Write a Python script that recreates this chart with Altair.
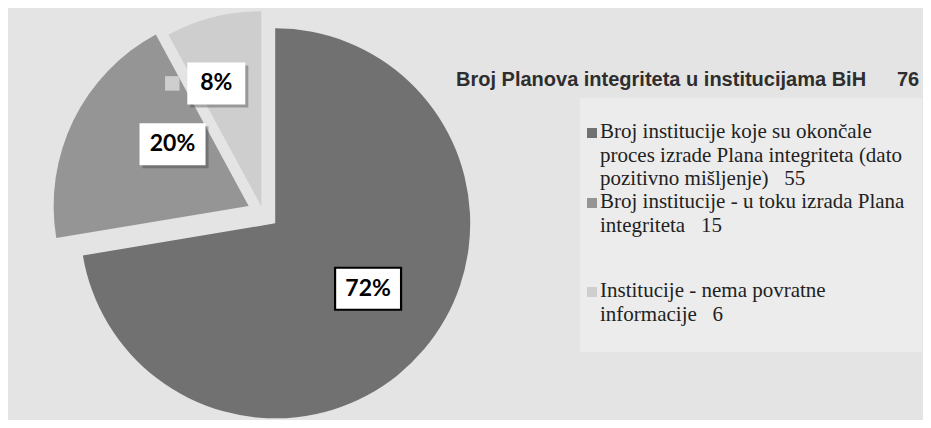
import altair as alt
import pandas as pd

# ---- data ----
categories = [
    "Broj institucije koje su okončale proces izrade Plana integriteta (dato pozitivno mišljenje)",
    "Broj institucije - u toku izrada Plana integriteta",
    "Institucije - nema povratne informacije",
]
counts = [55, 15, 6]
legend_lines = [
    ["Broj institucije koje su okončale", "proces izrade Plana integriteta (dato", "pozitivno mišljenje)"],
    ["Broj institucije  - u toku izrada Plana", "integriteta"],
    ["Institucije  - nema povratne", "informacije"],
]
title_text = "Broj Planova integriteta u institucijama BiH"

# ---- styles / layout ----
colors = ["#717171", "#959595", "#cecece"]
BG = "#e4e4e4"
CX, CY, R = 255, 205, 195
EXPLODE = [16, 16, 7]
LABEL_DIST = [113.6, 98, 130.8]
LABEL_SHIFT = [-5.1, 13, -5.9]
LEG_Y = [130, 200, 289]

legend_text = []
for lines, c in zip(legend_lines, counts):
    ls = list(lines)
    ls[-1] = ls[-1] + "\u00a0\u00a0 " + str(c)
    legend_text.append(ls)

df = pd.DataFrame({
    "i": list(range(len(categories))),
    "category": categories,
    "count": counts,
    "legend": legend_text,
})

color = alt.Color("category:N", scale=alt.Scale(domain=categories, range=colors), legend=None)

base = alt.Chart(df).transform_window(
    cum="sum(count)", sort=[alt.SortField("i")], frame=[None, 0]
).transform_joinaggregate(
    total="sum(count)"
).transform_calculate(
    a0="2*PI*(datum.cum - datum.count)/datum.total",
    a1="2*PI*datum.cum/datum.total",
).transform_calculate(
    mid="(datum.a0 + datum.a1)/2",
    ex=f"{EXPLODE}[datum.i]",
).transform_calculate(
    cx=f"{CX} + datum.ex*sin(datum.mid)",
    cy=f"{CY} - datum.ex*cos(datum.mid)",
    pct="format(datum.count/datum.total, '.0%')",
    la=f"datum.mid + {LABEL_SHIFT}[datum.i]*PI/180",
    ld=f"{LABEL_DIST}[datum.i]",
).transform_calculate(
    lx="datum.cx + datum.ld*sin(datum.la)",
    ly="datum.cy - datum.ld*cos(datum.la)",
    bw="42 + 8*length(datum.pct)",
).transform_calculate(
    bx0="datum.lx - datum.bw/2",
    bx1="datum.lx + datum.bw/2",
    by0="datum.ly - 21",
    by1="datum.ly + 21",
    kx="datum.lx - 44",
)

arcs = base.mark_arc(outerRadius=R).encode(
    x=alt.X("cx:Q", scale=None),
    y=alt.Y("cy:Q", scale=None),
    theta=alt.Theta("a0:Q", scale=None, stack=None),
    theta2="a1:Q",
    color=color,
)

shadow = base.transform_filter("datum.i != 0").transform_calculate(
    sx0="datum.bx0 + 3", sx1="datum.bx1 + 3", sy0="datum.by0 + 3", sy1="datum.by1 + 3"
).mark_rect(fill="#333333", opacity=0.35).encode(
    x=alt.X("sx0:Q", scale=None), x2="sx1:Q",
    y=alt.Y("sy0:Q", scale=None), y2="sy1:Q",
)

boxes = base.mark_rect(fill="white").encode(
    x=alt.X("bx0:Q", scale=None), x2="bx1:Q",
    y=alt.Y("by0:Q", scale=None), y2="by1:Q",
    stroke=alt.condition("datum.i == 0", alt.value("black"), alt.value("white")),
    strokeWidth=alt.condition("datum.i == 0", alt.value(2.2), alt.value(0)),
)

keys = base.mark_square(size=210, opacity=1).encode(
    x=alt.X("kx:Q", scale=None),
    y=alt.Y("ly:Q", scale=None),
    color=color,
)

labels = base.mark_text(font="Lato", fontWeight="bold", fontSize=23, color="black",
                        align="center", baseline="middle").encode(
    x=alt.X("lx:Q", scale=None),
    y=alt.Y("ly:Q", scale=None),
    text="pct:N",
)

legend_box = alt.Chart(df).mark_rect(fill="#ececec").encode(
    x=alt.value(572), x2=alt.value(914), y=alt.value(90), y2=alt.value(344)
).transform_filter("datum.i == 0")

title = alt.Chart(df).transform_aggregate(total="sum(count)").mark_text(
    font="Liberation Sans", fontWeight="bold", fontSize=20, color="#2e2e2e",
    align="left", baseline="alphabetic"
).encode(x=alt.value(448), y=alt.value(78), text=alt.value(title_text))

total = alt.Chart(df).transform_aggregate(total="sum(count)").mark_text(
    font="Liberation Sans", fontWeight="bold", fontSize=20, color="#2e2e2e",
    align="left", baseline="alphabetic"
).encode(x=alt.value(889), y=alt.value(78), text=alt.Text("total:Q"))

leg_pos = alt.Chart(df).transform_calculate(
    gy=f"{LEG_Y}[datum.i]",
).transform_calculate(
    ky="datum.gy - 5",
)

leg_keys = leg_pos.mark_square(size=100, opacity=1).encode(
    x=alt.value(584),
    y=alt.Y("ky:Q", scale=None),
    color=color,
)

leg_text = leg_pos.mark_text(font='"Liberation Serif", "Times New Roman", serif', fontSize=21,
                             color="#222222", align="left", baseline="alphabetic",
                             lineHeight=23.5).encode(
    x=alt.value(592),
    y=alt.Y("gy:Q", scale=None),
    text="legend:N",
)

chart = alt.layer(
    legend_box, arcs, shadow, boxes, keys, labels, title, total, leg_keys, leg_text
).properties(
    width=915, height=412, background=BG, padding=0,
    autosize=alt.AutoSizeParams(type="none"),
).configure_view(stroke=None)

chart.save("out.html", embed_options={"renderer": "svg", "actions": False})
